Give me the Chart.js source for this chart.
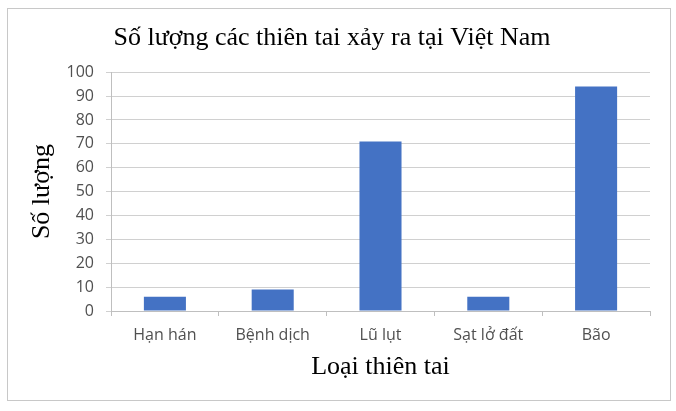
<!DOCTYPE html>
<html>
<head>
<meta charset="utf-8">
<script src="https://cdn.jsdelivr.net/npm/chart.js@4/dist/chart.umd.min.js"></script>
<style>
  html, body { margin: 0; padding: 0; background: #fff; }
  canvas { display: block; }
</style>
</head>
<body>
<canvas id="disasters" width="676" height="411"></canvas>
<script>
// Data
const categories = ["Hạn hán", "Bệnh dịch", "Lũ lụt", "Sạt lở đất", "Bão"];
const counts = [6, 9, 71, 6, 94];
const yTicks = [0, 10, 20, 30, 40, 50, 60, 70, 80, 90, 100];

// Outer frame around the whole chart, like the Excel chart border
const framePlugin = {
    id: "frame",
    beforeDraw: function (chart) {
        const ctx = chart.ctx;
        ctx.save();
        ctx.fillStyle = "#ffffff";
        ctx.fillRect(0, 0, chart.width, chart.height);
        ctx.strokeStyle = "#c8c8c8";
        ctx.lineWidth = 1;
        ctx.strokeRect(7.5, 8.5, 663, 392);
        ctx.restore();
    }
};

const ctx = document.getElementById("disasters").getContext("2d");
new Chart(ctx, {
    type: "bar",
    data: {
        labels: categories,
        datasets: [{
            label: "Số lượng",
            data: counts,
            backgroundColor: "#4472C4",
            borderWidth: 0,
            barPercentage: 0.39,
            categoryPercentage: 1
        }]
    },
    options: {
        responsive: false,
        animation: false,
        devicePixelRatio: 1,
        layout: {
            padding: { left: 14, right: 26, top: 14, bottom: 12 }
        },
        plugins: {
            legend: { display: false },
            tooltip: { enabled: false },
            title: {
                display: true,
                text: "Số lượng các thiên tai xảy ra tại Việt Nam",
                color: "#000000",
                font: { family: "Liberation Serif", size: 26, weight: "normal" },
                padding: { top: 9, bottom: 18 }
            }
        },
        scales: {
            x: {
                grid: {
                    display: true,
                    drawOnChartArea: false,
                    drawTicks: true,
                    tickLength: 5,
                    color: "#bfbfbf"
                },
                border: { display: true, color: "#bfbfbf" },
                ticks: {
                    color: "#505050",
                    font: { family: "Open Sans", size: 16 },
                    padding: 10,
                    maxRotation: 0
                },
                title: {
                    display: true,
                    text: "Loại thiên tai",
                    color: "#000000",
                    font: { family: "Liberation Serif", size: 26 },
                    padding: { top: 0, bottom: 16 }
                },
                afterFit: function (scale) {
                    scale.height = 88;
                }
            },
            y: {
                min: 0,
                max: 100,
                afterBuildTicks: function (scale) {
                    scale.ticks = yTicks.map(function (v) { return { value: v }; });
                },
                grid: {
                    color: "#d0d0d0",
                    drawTicks: true,
                    tickLength: 5
                },
                border: { display: true, color: "#bfbfbf" },
                ticks: {
                    color: "#505050",
                    font: { family: "Open Sans", size: 16 },
                    padding: 12
                },
                title: {
                    display: true,
                    text: "Số lượng",
                    color: "#000000",
                    font: { family: "Liberation Serif", size: 26 },
                    padding: { top: 13, bottom: 0 }
                },
                afterFit: function (scale) {
                    scale.width = 97;
                }
            }
        }
    },
    plugins: [framePlugin]
});
</script>
</body>
</html>
